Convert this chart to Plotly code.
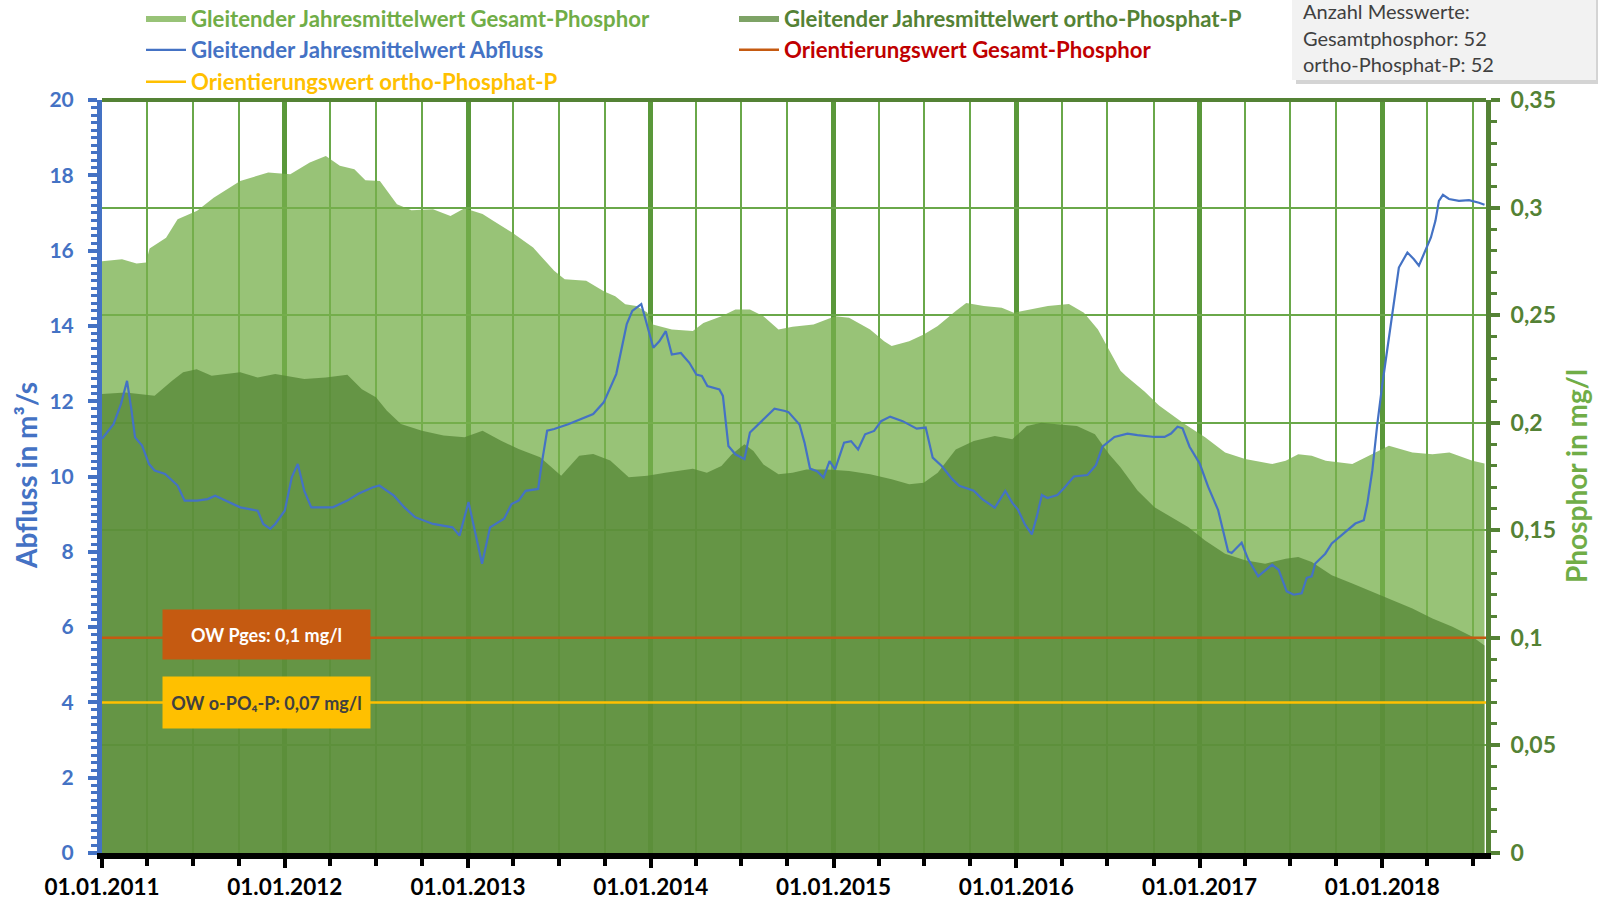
import plotly.graph_objects as go

# ---------------- data ----------------
gesamt_p_dates = [
    "2011-01-01", "2011-02-10", "2011-03-11", "2011-03-30", "2011-04-06", "2011-05-09", "2011-06-01",
    "2011-07-10", "2011-08-12", "2011-10-04", "2011-11-29", "2012-01-12", "2012-02-20", "2012-03-23",
    "2012-04-20", "2012-05-19", "2012-06-10", "2012-07-09", "2012-08-12", "2012-09-10", "2012-10-23",
    "2012-11-27", "2012-12-25", "2013-01-30", "2013-02-21", "2013-03-30", "2013-05-11", "2013-06-22",
    "2013-07-13", "2013-08-25", "2013-09-30", "2013-10-22", "2013-11-11", "2013-12-03", "2013-12-25",
    "2014-01-05", "2014-02-12", "2014-03-26", "2014-04-16", "2014-05-22", "2014-06-19", "2014-07-18",
    "2014-08-14", "2014-09-13", "2014-10-11", "2014-11-22", "2015-01-04", "2015-02-01", "2015-03-15",
    "2015-04-12", "2015-04-27", "2015-06-01", "2015-06-30", "2015-07-28", "2015-09-02", "2015-09-23",
    "2015-10-28", "2015-12-03", "2015-12-27", "2016-02-01", "2016-03-04", "2016-04-15", "2016-05-15",
    "2016-06-12", "2016-07-10", "2016-07-27", "2016-08-07", "2016-09-13", "2016-10-12", "2016-12-02",
    "2017-01-12", "2017-02-21", "2017-04-02", "2017-05-26", "2017-06-22", "2017-07-17", "2017-08-13",
    "2017-09-10", "2017-11-02", "2017-11-29", "2018-01-14", "2018-03-02", "2018-04-11", "2018-05-15",
    "2018-06-30", "2018-07-24",
]
gesamt_p_values = [
    0.275, 0.276, 0.274, 0.2745, 0.281, 0.286, 0.2946,
    0.2985, 0.3046, 0.3124, 0.3163, 0.3155, 0.321, 0.324,
    0.3194, 0.3178, 0.3127, 0.3124, 0.3015, 0.2988, 0.2992,
    0.2961, 0.2997, 0.297, 0.2938, 0.2884, 0.2814, 0.2706,
    0.2667, 0.266, 0.261, 0.2588, 0.2551, 0.2542, 0.2512,
    0.2457, 0.2433, 0.2426, 0.2464, 0.2495, 0.2526, 0.2526,
    0.2495, 0.2433, 0.2446, 0.2457, 0.2495, 0.2488, 0.2433,
    0.2379, 0.2356, 0.2379, 0.241, 0.2449, 0.2519, 0.2557,
    0.2542, 0.2534, 0.2511, 0.2526, 0.2542, 0.2552, 0.2511,
    0.2433, 0.231, 0.2242, 0.2217, 0.2145, 0.208, 0.1994,
    0.1932, 0.1862, 0.1831, 0.1808, 0.1823, 0.1854, 0.1847,
    0.1823, 0.1808, 0.1839, 0.1893, 0.1862, 0.1854, 0.1862,
    0.1823, 0.181,
]

ortho_p_dates = [
    "2011-01-01", "2011-02-17", "2011-04-16", "2011-05-21", "2011-06-12", "2011-07-09", "2011-08-08",
    "2011-10-04", "2011-11-08", "2011-12-13", "2012-02-09", "2012-03-23", "2012-05-05", "2012-06-03",
    "2012-07-01", "2012-07-23", "2012-08-20", "2012-10-01", "2012-11-13", "2012-12-25", "2013-01-30",
    "2013-03-08", "2013-04-12", "2013-05-25", "2013-07-06", "2013-08-11", "2013-09-08", "2013-10-12",
    "2013-11-18", "2013-12-25", "2014-01-30", "2014-03-26", "2014-04-23", "2014-05-22", "2014-06-12",
    "2014-07-07", "2014-07-25", "2014-08-14", "2014-09-13", "2014-10-11", "2014-11-08", "2014-12-20",
    "2015-02-01", "2015-03-15", "2015-04-27", "2015-06-01", "2015-06-30", "2015-07-28", "2015-09-02",
    "2015-10-08", "2015-11-19", "2015-12-24", "2016-01-22", "2016-02-20", "2016-04-02", "2016-05-01",
    "2016-06-06", "2016-07-04", "2016-07-27", "2016-08-30", "2016-10-03", "2016-11-05", "2016-12-09",
    "2017-01-12", "2017-02-21", "2017-04-02", "2017-05-12", "2017-06-22", "2017-07-17", "2017-08-13",
    "2017-09-22", "2017-11-02", "2017-12-12", "2018-01-21", "2018-03-02", "2018-04-11", "2018-05-21",
    "2018-06-30", "2018-07-24",
]
ortho_p_values = [
    0.2133, 0.214, 0.2125, 0.2195, 0.2234, 0.2249, 0.2218,
    0.2234, 0.221, 0.2226, 0.2203, 0.221, 0.2223, 0.2156,
    0.2118, 0.2056, 0.1994, 0.1963, 0.194, 0.1932, 0.1963,
    0.1916, 0.1878, 0.1839, 0.1754, 0.1847, 0.1855, 0.1824,
    0.1746, 0.1754, 0.1768, 0.1786, 0.1768, 0.1799, 0.1853,
    0.19, 0.1868, 0.1806, 0.176, 0.1768, 0.1783, 0.1783,
    0.1776, 0.176, 0.1737, 0.1714, 0.1721, 0.1768, 0.1876,
    0.1915, 0.1938, 0.1923, 0.1985, 0.2, 0.1990, 0.1985,
    0.1946, 0.1855, 0.1793, 0.1685, 0.1607, 0.1561, 0.1515,
    0.1453, 0.1391, 0.1361, 0.1345, 0.1368, 0.1376, 0.1353,
    0.1291, 0.1253, 0.1214, 0.1175, 0.1137, 0.109, 0.1052,
    0.1005, 0.0965,
]

abfluss_dates = [
    "2011-01-01", "2011-01-24", "2011-02-08", "2011-02-20", "2011-03-01", "2011-03-08", "2011-03-22",
    "2011-04-05", "2011-04-16", "2011-05-07", "2011-06-01", "2011-06-15", "2011-07-10", "2011-07-31",
    "2011-08-15", "2011-08-29", "2011-10-04", "2011-11-08", "2011-11-19", "2011-12-03", "2011-12-13",
    "2012-01-01", "2012-01-15", "2012-01-27", "2012-02-09", "2012-02-23", "2012-04-06", "2012-05-05",
    "2012-05-27", "2012-06-24", "2012-07-08", "2012-08-06", "2012-08-27", "2012-09-17", "2012-10-23",
    "2012-12-01", "2012-12-15", "2013-01-02", "2013-01-16", "2013-01-29", "2013-02-14", "2013-03-14",
    "2013-03-29", "2013-04-12", "2013-04-26", "2013-05-21", "2013-05-28", "2013-06-08", "2013-06-22",
    "2013-07-20", "2013-09-08", "2013-09-29", "2013-10-24", "2013-11-14", "2013-11-25", "2013-12-13",
    "2014-01-06", "2014-01-18", "2014-01-31", "2014-02-12", "2014-03-02", "2014-03-19", "2014-04-02",
    "2014-04-13", "2014-04-24", "2014-05-18", "2014-05-25", "2014-06-05", "2014-06-19", "2014-07-07",
    "2014-07-18", "2014-08-04", "2014-08-18", "2014-09-05", "2014-09-26", "2014-10-03", "2014-10-25",
    "2014-11-04", "2014-11-15", "2014-11-29", "2014-12-12", "2014-12-24", "2015-01-04", "2015-01-22",
    "2015-02-05", "2015-02-19", "2015-03-05", "2015-03-23", "2015-04-06", "2015-04-24", "2015-05-19",
    "2015-06-16", "2015-07-04", "2015-07-18", "2015-08-05", "2015-08-26", "2015-09-09", "2015-10-08",
    "2015-10-25", "2015-11-19", "2015-12-10", "2015-12-24", "2016-01-04", "2016-01-18", "2016-02-01",
    "2016-02-11", "2016-02-21", "2016-03-03", "2016-03-23", "2016-04-05", "2016-04-25", "2016-05-22",
    "2016-06-08", "2016-06-21", "2016-07-15", "2016-08-10", "2016-08-30", "2016-10-03", "2016-10-23",
    "2016-11-05", "2016-11-18", "2016-11-28", "2016-12-12", "2017-01-01", "2017-01-18", "2017-02-07",
    "2017-02-27", "2017-03-06", "2017-03-26", "2017-04-08", "2017-04-28", "2017-05-26", "2017-06-08",
    "2017-06-24", "2017-07-08", "2017-07-24", "2017-08-03", "2017-08-13", "2017-08-20", "2017-09-09",
    "2017-09-22", "2017-10-20", "2017-11-08", "2017-11-25", "2017-12-02", "2017-12-12", "2017-12-22",
    "2018-01-01", "2018-01-11", "2018-01-21", "2018-02-03", "2018-02-20", "2018-03-05", "2018-03-15",
    "2018-03-25", "2018-04-08", "2018-04-17", "2018-04-24", "2018-05-02", "2018-05-14", "2018-06-03",
    "2018-06-23", "2018-07-13", "2018-07-24",
]
abfluss_values = [
    11.0, 11.39, 11.93, 12.54, 11.75, 11.04, 10.82,
    10.33, 10.16, 10.07, 9.76, 9.36, 9.36, 9.40,
    9.49, 9.40, 9.18, 9.09, 8.74, 8.61, 8.74,
    9.09, 9.98, 10.33, 9.62, 9.18, 9.18, 9.36,
    9.54, 9.71, 9.76, 9.49, 9.18, 8.92, 8.74,
    8.65, 8.43, 9.32, 8.47, 7.68, 8.65, 8.88,
    9.27, 9.36, 9.62, 9.67, 10.33, 11.22, 11.26,
    11.39, 11.66, 11.97, 12.72, 14.05, 14.40, 14.58,
    13.42, 13.59, 13.86, 13.24, 13.28, 13.02, 12.71,
    12.67, 12.40, 12.31, 12.14, 10.81, 10.59, 10.46,
    11.17, 11.38, 11.56, 11.80, 11.74, 11.71, 11.38,
    10.90, 10.21, 10.14, 9.97, 10.41, 10.19, 10.90,
    10.94, 10.72, 11.12, 11.21, 11.47, 11.59, 11.47,
    11.27, 11.30, 10.50, 10.28, 9.93, 9.75, 9.62,
    9.40, 9.17, 9.62, 9.30, 9.13, 8.73, 8.46,
    8.94, 9.51, 9.43, 9.51, 9.69, 10.0, 10.04,
    10.30, 10.79, 11.05, 11.14, 11.10, 11.05, 11.05,
    11.14, 11.32, 11.28, 10.79, 10.35, 9.73, 9.11,
    8.01, 7.97, 8.24, 7.80, 7.35, 7.66, 7.52,
    6.95, 6.86, 6.90, 7.31, 7.35, 7.69, 7.95,
    8.22, 8.53, 8.75, 8.84, 9.28, 10.16, 11.40,
    12.45, 13.43, 14.31, 15.55, 15.95, 15.77, 15.60,
    15.91, 16.35, 16.79, 17.32, 17.48, 17.37, 17.32,
    17.34, 17.27, 17.22,
]

ow_dates = ["2011-01-01", "2018-07-27"]
ow_gesamt_p = [0.1, 0.1]
ow_ortho_p = [0.07, 0.07]

x_range = ["2011-01-01", "2018-07-27"]
q_tickvals = [0, 2, 4, 6, 8, 10, 12, 14, 16, 18, 20]
p_tickvals = [0, 0.05, 0.1, 0.15, 0.2, 0.25, 0.3, 0.35]
p_ticktext = ["0", "0,05", "0,1", "0,15", "0,2", "0,25", "0,3", "0,35"]

info_lines = ["Anzahl Messwerte:", "Gesamtphosphor: 52", "ortho-Phosphat-P: 52"]

# ---------------- styles ----------------
FONT = "Lato"
BLUE = "#4472C4"
GREEN_AX = "#548235"
LIGHT_FILL = "rgba(120,176,76,0.76)"
DARK_FILL = "rgba(86,134,54,0.76)"
GRID_THIN = "#6AA84A"
GRID_THICK = "#5A983A"

W, H = 1598, 900
ML, MR, MT, MB = 102, 112, 100, 47
PW, PH = W - ML - MR, H - MT - MB


def px_x(px):
    return (px - ML) / PW


def px_y(py):
    return (H - MB - py) / PH


def lg(text, color):
    return f"<span style='color:{color}'>{text}</span>"


fig = go.Figure()

fig.add_trace(go.Scatter(
    x=gesamt_p_dates, y=gesamt_p_values, yaxis="y", mode="lines",
    line=dict(width=0, color=LIGHT_FILL), fill="tozeroy", fillcolor=LIGHT_FILL,
    name=lg("Gleitender Jahresmittelwert Gesamt-Phosphor", "#70AD47"), legendrank=1,
))
fig.add_trace(go.Scatter(
    x=ortho_p_dates, y=ortho_p_values, yaxis="y", mode="lines",
    line=dict(width=0, color=DARK_FILL), fill="tozeroy", fillcolor=DARK_FILL,
    name=lg("Gleitender Jahresmittelwert ortho-Phosphat-P", GREEN_AX), legendrank=2,
))
fig.add_trace(go.Scatter(
    x=ow_dates, y=ow_gesamt_p, yaxis="y", mode="lines",
    line=dict(width=2.5, color="#C55A11"),
    name=lg("Orientierungswert Gesamt-Phosphor", "#C00000"), legendrank=4,
))
fig.add_trace(go.Scatter(
    x=ow_dates, y=ow_ortho_p, yaxis="y", mode="lines",
    line=dict(width=2.5, color="#FFC000"),
    name=lg("Orientierungswert ortho-Phosphat-P", "#FFC000"), legendrank=5,
))
fig.add_trace(go.Scatter(
    x=abfluss_dates, y=abfluss_values, yaxis="y2", mode="lines",
    line=dict(width=2.2, color=BLUE),
    name=lg("Gleitender Jahresmittelwert Abfluss", BLUE), legendrank=3,
))

fig.update_layout(
    width=W, height=H,
    margin=dict(l=ML, r=MR, t=MT, b=MB, autoexpand=False),
    paper_bgcolor="white", plot_bgcolor="white",
    font=dict(family=FONT),
    showlegend=True,
    legend=dict(
        orientation="h", x=px_x(141), y=px_y(-3), xanchor="left", yanchor="top",
        entrywidth=538, entrywidthmode="pixels", itemwidth=40,
        font=dict(family=FONT, size=22.2, weight="bold"),
        bgcolor="rgba(0,0,0,0)", traceorder="normal",
    ),
    xaxis=dict(
        type="date", range=x_range,
        tick0="2011-01-01", dtick="M12", tickformat="%d.%m.%Y",
        showgrid=True, gridcolor=GRID_THICK, gridwidth=5,
        showline=True, linecolor="black", linewidth=6,
        ticks="outside", ticklen=9, tickwidth=4, tickcolor="black",
        tickfont=dict(family=FONT, size=22.5, weight="bold", color="black"),
        minor=dict(dtick="M3", tick0="2011-01-01", showgrid=True, gridcolor=GRID_THIN, gridwidth=2,
                   ticks="outside", ticklen=7, tickwidth=4, tickcolor="black"),
        zeroline=False,
    ),
    yaxis=dict(
        side="right", range=[0, 0.35],
        tickvals=p_tickvals, ticktext=p_ticktext,
        showgrid=True, gridcolor=GRID_THIN, gridwidth=2,
        showline=True, linecolor=GREEN_AX, linewidth=5,
        ticks="outside", ticklen=9, tickwidth=4, tickcolor=GREEN_AX,
        ticklabelstandoff=6,
        tickfont=dict(family=FONT, size=23, weight="bold", color=GREEN_AX),
        minor=dict(dtick=0.01, ticks="outside", ticklen=6, tickwidth=3, tickcolor=GREEN_AX, showgrid=False),
        zeroline=False,
    ),
    yaxis2=dict(
        side="left", overlaying="y", range=[0, 20],
        tickvals=q_tickvals,
        showgrid=False,
        showline=True, linecolor=BLUE, linewidth=5,
        ticks="outside", ticklen=9, tickwidth=4, tickcolor=BLUE,
        ticklabelstandoff=10,
        tickfont=dict(family=FONT, size=21, weight="bold", color=BLUE),
        minor=dict(dtick=0.2, ticks="outside", ticklen=6, tickwidth=3, tickcolor=BLUE, showgrid=False),
        zeroline=False,
    ),
)

# top border of the plot area
fig.add_shape(type="line", xref="paper", yref="paper", x0=0, x1=1, y0=1, y1=1,
              line=dict(color=GREEN_AX, width=4))

# axis titles
fig.add_annotation(text="Abfluss in m³/s", xref="paper", yref="paper", x=px_x(26), y=px_y(476),
                   xanchor="center", yanchor="middle", textangle=-90, showarrow=False,
                   font=dict(family=FONT, size=28, weight="bold", color=BLUE))
fig.add_annotation(text="Phosphor in mg/l", xref="paper", yref="paper", x=px_x(1576), y=px_y(476),
                   xanchor="center", yanchor="middle", textangle=-90, showarrow=False,
                   font=dict(family=FONT, size=28, weight="bold", color="#70AD47"))

# orientation-value labels
fig.add_annotation(text="<b>OW Pges: 0,1 mg/l</b>", xref="paper", yref="paper", x=px_x(266), y=px_y(634),
                   xanchor="center", yanchor="middle", showarrow=False, width=207, height=49,
                   bgcolor="#C55A11", borderpad=0, font=dict(family=FONT, size=18, color="white"))
fig.add_annotation(text="<b>OW o-PO₄-P: 0,07 mg/l</b>", xref="paper", yref="paper", x=px_x(266), y=px_y(702),
                   xanchor="center", yanchor="middle", showarrow=False, width=207, height=51,
                   bgcolor="#FFC000", borderpad=0, font=dict(family=FONT, size=18, color="#404040"))

# info box top right
fig.add_shape(type="rect", xref="paper", yref="paper",
              x0=px_x(1296), x1=px_x(1600), y0=px_y(84), y1=px_y(-5),
              fillcolor="#D4D4D4", line=dict(width=0), layer="above")
fig.add_shape(type="rect", xref="paper", yref="paper",
              x0=px_x(1292), x1=px_x(1596), y0=px_y(80), y1=px_y(-5),
              fillcolor="#F2F2F2", line=dict(width=0), layer="above")
for i, line_text in enumerate(info_lines):
    fig.add_annotation(text=line_text, xref="paper", yref="paper",
                       x=px_x(1301), y=px_y(11 + 26.5 * i), xanchor="left", yanchor="middle",
                       align="left", showarrow=False,
                       font=dict(family=FONT, size=20, color="#404040"))

fig.write_html("out.html", config={"displayModeBar": False},
               post_script="document.body.style.margin='0';")
